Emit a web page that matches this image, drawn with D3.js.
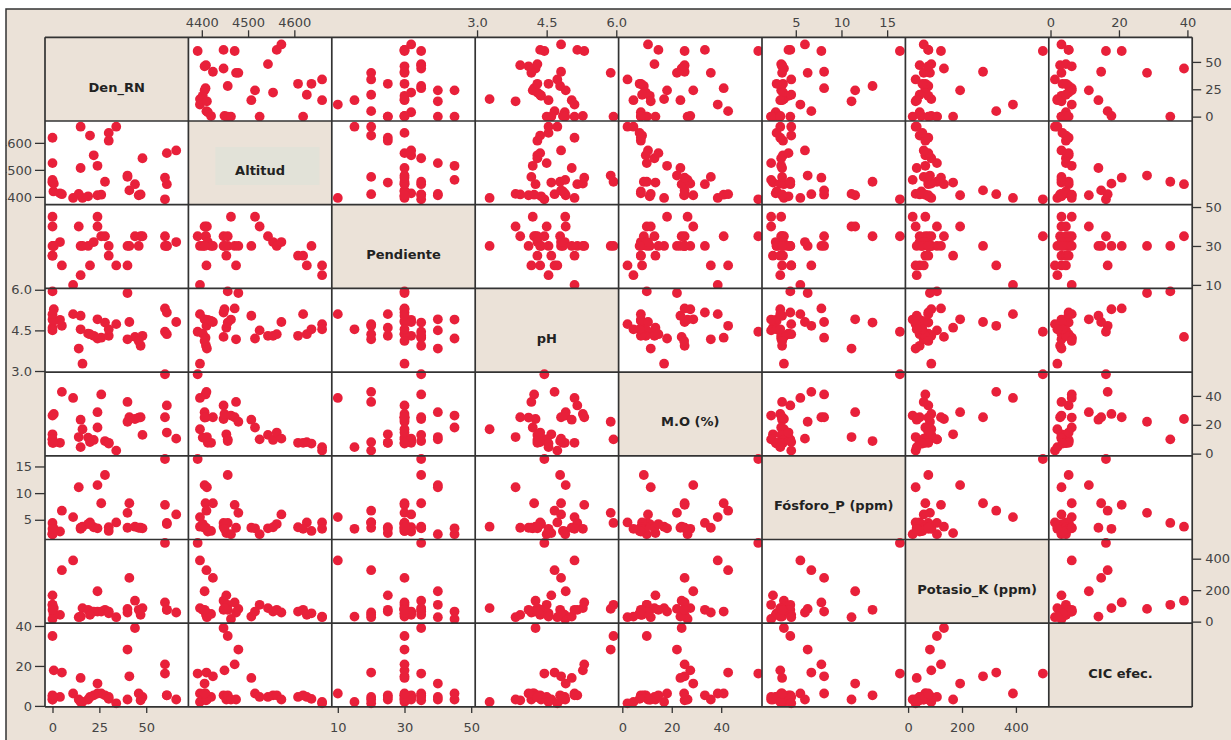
<!DOCTYPE html>
<html>
<head>
<meta charset="utf-8">
<script src="https://cdn.jsdelivr.net/npm/d3@7"></script>
<style>
  body { margin: 0; background: #fff; }
  .tick text { font-family: "DejaVu Sans", Verdana, sans-serif; font-size: 13px; fill: #444; }
  .tick line { stroke: #333; stroke-width: 1.3; }
</style>
</head>
<body>
<div id="splom"></div>
<script>
// one value per sample, same order in every array
var denRN = [60, 16, 11, 19, 24, 26, 5, 47, 4, 0.5, 41, 61, 44, 0, 0, 28, 0.7, 0, 60, 40, 40, 15, 24, 0, 14, 48, 22, 61, 66, 20, 30, 0, 30, 34, 15, 46];
var altitud = [4391, 4396, 4396, 4402, 4406, 4408, 4410, 4409, 4413, 4420, 4424, 4447, 4447, 4453, 4456, 4456, 4449, 4463, 4471, 4474, 4479, 4507, 4515, 4525, 4411, 4543, 4554, 4562, 4572, 4627, 4608, 4619, 4637, 4660, 4660, 4406];
var pendiente = [35, 30, 10, 30, 40, 35, 20, 35, 32, 30, 30, 30, 35, 25, 30, 35, 30, 45, 30, 20, 30, 30, 45, 40, 40, 35, 32, 30, 32, 20, 25, 25, 30, 20, 15, 30];
var pH = [4.45, 3.27, 5.1, 4.38, 4.91, 4.23, 4.67, 3.93, 4.89, 4.85, 4.81, 5.16, 4.26, 4.6, 5.94, 4.79, 5.28, 4.9, 5.31, 4.17, 5.88, 5.04, 4.2, 4.5, 3.83, 4.3, 4.3, 4.36, 4.81, 4.36, 4.3, 5.1, 4.54, 4.73, 4.54, 4.11];
var materiaOrg = [55, 16.9, 38.6, 11.1, 28.7, 41, 42.8, 25.2, 7.5, 7.5, 25.2, 33.4, 24, 13.4, 9.9, 8.7, 27.5, 26.4, 25.2, 35.8, 22.1, 23.5, 18.1, 9.9, 11.5, 13, 9.5, 14.6, 10.4, 8, 7.5, 7.5, 7, 2.1, 4.5, 25];
var fosforo = [16.4, 3.7, 5.5, 4.2, 11.5, 8.1, 6.7, 3.5, 2.8, 2.9, 8.1, 4.4, 3.7, 2.5, 4.4, 13.4, 3.3, 2.3, 7.8, 3.5, 6.3, 3.5, 3.4, 2.3, 11.1, 3.4, 3.6, 4.2, 6, 4.5, 3.6, 3.3, 2.9, 4.5, 3.3, 3.5];
var potasio = [500, 86, 389, 75, 193, 64, 327, 43, 43, 49, 278, 75, 133, 167, 107, 75, 86, 17, 122, 58, 81, 32, 64, 107, 28, 86, 64, 75, 58, 43, 64, 75, 53, 28, 32, 75];
var cicEfec = [16.2, 2, 6.2, 3.2, 11.2, 6.2, 16.7, 2.8, 4.5, 4.5, 14.8, 5.3, 39, 3.2, 35, 5.3, 17.8, 3.2, 20.8, 3.2, 28.2, 14, 6.2, 4.5, 3.2, 4.5, 5.3, 5.3, 3.2, 4.5, 4.5, 5.3, 3.5, 1.3, 2, 6.2];

var labels = ["Den_RN", "Altitud", "Pendiente", "pH", "M.O (%)", "Fósforo_P (ppm)", "Potasio_K (ppm)", "CIC efec."];
var tickVals = [[0, 25, 50], [4400, 4500, 4600], [10, 30, 50], [3.0, 4.5, 6.0], [0, 20, 40], [5, 10, 15], [0, 200, 400], [0, 20, 40]];

var columns = [denRN, altitud, pendiente, pH, materiaOrg, fosforo, potasio, cicEfec];
var domains = [[-4, 72.5], [4371, 4681], [8.2, 51.2], [2.96, 6.05], [-1.5, 56.5], [1.3, 17.0], [-10, 522], [-0.5, 41.4]];

var width = 1231, height = 740;
var gridLeft = 45, gridTop = 37.3, cw = 143.4, ch = 83.7;
var n = labels.length;
var beige = "#ebe2d8";

var svg = d3.select("#splom")
    .append("svg")
    .attr("width", width)
    .attr("height", height);

svg.append("rect").attr("width", width).attr("height", height).attr("fill", "#fff");
svg.append("rect")
    .attr("x", 6).attr("y", 9)
    .attr("width", width - 6).attr("height", height - 9)
    .attr("fill", beige);

var xs = [], ys = [];
for (var k = 0; k < n; k++) {
    xs.push(d3.scaleLinear().domain(domains[k]).range([gridLeft + k * cw, gridLeft + (k + 1) * cw]));
    ys.push(d3.scaleLinear().domain(domains[k]).range([gridTop + (k + 1) * ch, gridTop + k * ch]));
}

function fmt(k) {
    return k == 3 ? d3.format(".1f") : d3.format("d");
}

var records = d3.range(denRN.length);

for (var i = 0; i < n; i++) {
    for (var j = 0; j < n; j++) {
        var cx = gridLeft + j * cw, cy = gridTop + i * ch;
        svg.append("rect")
            .attr("x", cx).attr("y", cy)
            .attr("width", cw).attr("height", ch)
            .attr("fill", i == j ? beige : "#fff");

        if (i == j) {
            if (i == 1) {
                svg.append("rect")
                    .attr("x", cx + 27).attr("y", cy + 26)
                    .attr("width", 104).attr("height", 38)
                    .attr("fill", "#e2e2d8");
            }
            svg.append("text")
                .attr("x", cx + cw / 2)
                .attr("y", cy + ch / 2 + 8)
                .attr("text-anchor", "middle")
                .attr("dominant-baseline", "central")
                .attr("font-family", "DejaVu Sans, Verdana, sans-serif")
                .attr("font-weight", "bold")
                .attr("font-size", "13px")
                .attr("fill", "#222")
                .text(labels[i]);
            continue;
        }

        (function (xi, yi) {
            svg.append("g")
                .selectAll("circle")
                .data(records)
                .enter()
                .append("circle")
                .attr("cx", function (d) { return xs[xi](columns[xi][d]); })
                .attr("cy", function (d) { return ys[yi](columns[yi][d]); })
                .attr("r", 4.9)
                .attr("fill", "#e8203a");
        })(j, i);
    }
}

// grid lines over everything
for (var g = 0; g <= n; g++) {
    svg.append("line")
        .attr("x1", gridLeft + g * cw).attr("x2", gridLeft + g * cw)
        .attr("y1", gridTop).attr("y2", gridTop + n * ch)
        .attr("stroke", "#333").attr("stroke-width", 1.7);
    svg.append("line")
        .attr("x1", gridLeft).attr("x2", gridLeft + n * cw)
        .attr("y1", gridTop + g * ch).attr("y2", gridTop + g * ch)
        .attr("stroke", "#333").attr("stroke-width", 1.7);
}

// axes alternate: top on even columns, bottom on odd, left on even rows, right on odd
for (var a = 0; a < n; a++) {
    if (a % 2 == 1) {
        svg.append("g")
            .attr("transform", "translate(0," + gridTop + ")")
            .call(d3.axisTop(xs[a]).tickValues(tickVals[a]).tickSize(7).tickPadding(3).tickFormat(fmt(a)));
        svg.append("g")
            .attr("transform", "translate(" + gridLeft + ",0)")
            .call(d3.axisLeft(ys[a]).tickValues(tickVals[a]).tickSize(10).tickPadding(3).tickFormat(fmt(a)));
    } else {
        svg.append("g")
            .attr("transform", "translate(0," + (gridTop + n * ch) + ")")
            .call(d3.axisBottom(xs[a]).tickValues(tickVals[a]).tickSize(6).tickPadding(10).tickFormat(fmt(a)));
        svg.append("g")
            .attr("transform", "translate(" + (gridLeft + n * cw) + ",0)")
            .call(d3.axisRight(ys[a]).tickValues(tickVals[a]).tickSize(9).tickPadding(4).tickFormat(fmt(a)));
    }
}
svg.selectAll(".domain").remove();

// outer frame: white margin to the left and the frame line
svg.append("rect").attr("x", 0).attr("y", 0).attr("width", 6).attr("height", height).attr("fill", "#fff");
svg.append("path")
    .attr("d", "M6," + height + "V9H" + width)
    .attr("fill", "none")
    .attr("stroke", "#333")
    .attr("stroke-width", 1.5);
</script>
</body>
</html>
